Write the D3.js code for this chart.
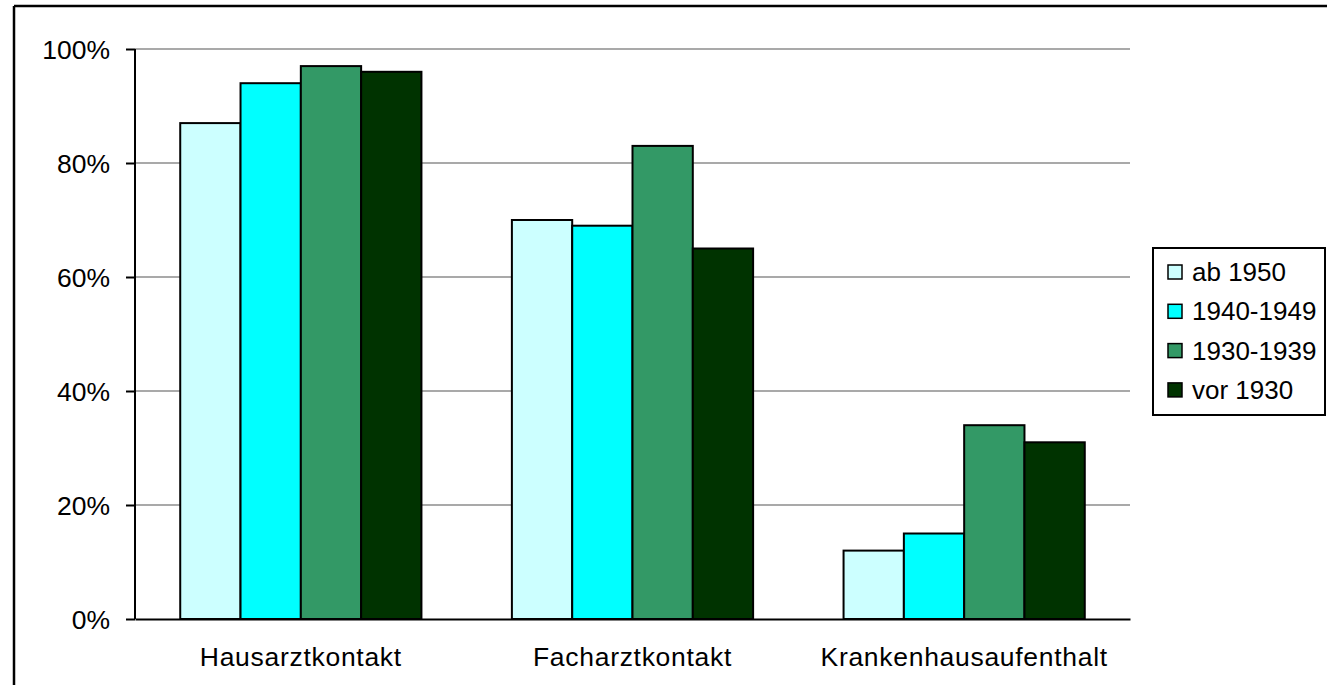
<!DOCTYPE html>
<html>
<head>
<meta charset="utf-8">
<script src="https://cdn.jsdelivr.net/npm/d3@7"></script>
<style>
  html, body { margin: 0; padding: 0; background: #fff; }
  svg { display: block; font-family: "Liberation Sans", Arial, sans-serif; }
</style>
</head>
<body>
<div id="chart"></div>
<script>
// chart data
const categories = ["Hausarztkontakt", "Facharztkontakt", "Krankenhausaufenthalt"];
const series = ["ab 1950", "1940-1949", "1930-1939", "vor 1930"];
const seriesColors = ["#CCFFFF", "#00FFFF", "#339966", "#003300"];
const ab1950 = [0.87, 0.70, 0.12];
const y1940 = [0.94, 0.69, 0.15];
const y1930 = [0.97, 0.83, 0.34];
const vor1930 = [0.96, 0.65, 0.31];
const yTicks = [0, 0.2, 0.4, 0.6, 0.8, 1.0];

const values = [ab1950, y1940, y1930, vor1930];

const W = 1327, H = 695;
const plot = {left: 135, right: 1130, top: 49, bottom: 619};

const svg = d3.select("#chart")
    .append("svg")
    .attr("width", W)
    .attr("height", H);

// outer frame (only left and top are visible in the picture)
svg.append("line")
    .attr("x1", 14).attr("x2", 14).attr("y1", 6).attr("y2", 685)
    .attr("stroke", "#000").attr("stroke-width", 2.5);
svg.append("line")
    .attr("x1", 14).attr("x2", W).attr("y1", 6).attr("y2", 6)
    .attr("stroke", "#000").attr("stroke-width", 2.5);

const x0 = d3.scaleBand()
    .domain(categories)
    .range([plot.left, plot.right])
    .padding(0);

// gap width 150% -> 4 bars + 1.5 bar widths of gap per band
const barW = x0.bandwidth() / 5.5;
const x1 = d3.scaleBand()
    .domain(series)
    .range([barW * 0.75, barW * 4.75])
    .padding(0);

const y = d3.scaleLinear()
    .domain([0, 1])
    .range([plot.bottom, plot.top]);

// gridlines
svg.append("g")
    .selectAll("line")
    .data(yTicks.filter(d => d > 0))
    .enter()
    .append("line")
    .attr("x1", plot.left)
    .attr("x2", plot.right)
    .attr("y1", d => y(d))
    .attr("y2", d => y(d))
    .attr("stroke", "#8c8c8c")
    .attr("stroke-width", 1.5);

// bars
const groups = svg.append("g")
    .selectAll("g")
    .data(categories)
    .enter()
    .append("g")
    .attr("transform", d => `translate(${x0(d)},0)`);

groups.selectAll("rect")
    .data((c, ci) => series.map((s, si) => ({s, si, v: values[si][ci]})))
    .enter()
    .append("rect")
    .attr("x", d => x1(d.s))
    .attr("y", d => y(d.v))
    .attr("width", x1.bandwidth())
    .attr("height", d => y(0) - y(d.v))
    .attr("fill", d => seriesColors[d.si])
    .attr("stroke", "#000")
    .attr("stroke-width", 2);

// y axis
const yAxis = svg.append("g")
    .attr("transform", `translate(${plot.left},0)`)
    .call(d3.axisLeft(y)
        .tickValues(yTicks)
        .tickSize(9)
        .tickPadding(16)
        .tickFormat(d => Math.round(d * 100) + "%"));
yAxis.select(".domain").attr("stroke", "#000").attr("stroke-width", 2).attr("d", `M0,${plot.top}V${plot.bottom}`);
yAxis.selectAll(".tick line").attr("stroke", "#000").attr("stroke-width", 2);
yAxis.selectAll(".tick text")
    .attr("fill", "#000")
    .style("font-size", "26.5px")
    .attr("dy", "0.35em");

// x axis
const xAxis = svg.append("g")
    .attr("transform", `translate(0,${plot.bottom})`)
    .call(d3.axisBottom(x0).tickSize(0).tickPadding(28));
xAxis.select(".domain").attr("stroke", "#000").attr("stroke-width", 2);
xAxis.selectAll(".tick text")
    .attr("fill", "#000")
    .style("font-size", "26.5px")
    .style("letter-spacing", "0.7px");

// legend
const legend = svg.append("g").attr("transform", "translate(1153,248)");
legend.append("rect")
    .attr("width", 172)
    .attr("height", 167)
    .attr("fill", "#fff")
    .attr("stroke", "#000")
    .attr("stroke-width", 2);

const items = legend.selectAll("g.item")
    .data(series)
    .enter()
    .append("g")
    .attr("class", "item")
    .attr("transform", (d, i) => `translate(0,${24 + i * 39.3})`);

items.append("rect")
    .attr("x", 15)
    .attr("y", -7)
    .attr("width", 14)
    .attr("height", 14)
    .attr("fill", (d, i) => seriesColors[i])
    .attr("stroke", "#000")
    .attr("stroke-width", 1.5);

items.append("text")
    .attr("x", 39)
    .attr("dy", "0.35em")
    .style("font-size", "26px")
    .text(d => d);
</script>
</body>
</html>
